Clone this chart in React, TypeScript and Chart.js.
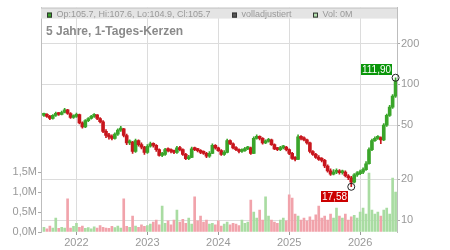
import React, { useEffect, useRef } from 'react';
import { Chart, registerables } from 'chart.js';

Chart.register(...registerables);

const FONT = '"Liberation Sans", Arial, Helvetica, sans-serif';

// Half-monthly candles, first one mid-July 2021, last one July 2026
const periodStart = 2021.5;
const periodsPerYear = 24;

const yearTicks = [2022, 2023, 2024, 2025, 2026];
const priceTicks = [10, 20, 50, 100, 200];
const volumeTicksM = [0, 0.5, 1.0, 1.5];

const opens = [
  59, 60, 58, 56, 59, 61, 60, 62, 65, 61,
  57, 58, 60, 52, 48.5, 54, 56, 58, 59.5, 56,
  53, 45, 42, 41, 40, 43, 46, 47, 42, 37,
  37.5, 32, 38.5, 36, 34.5, 31.5, 35, 36.5, 35.5, 33,
  30, 30.5, 33, 32.5, 32, 31.5, 34, 33, 30.5, 28.3,
  29, 33.5, 33, 32.5, 31.5, 31, 29.5, 31, 35.5, 34,
  32.5, 30.5, 31.5, 38.5, 36.5, 34, 33, 32, 32.5, 33.5,
  34, 31, 40, 41, 40, 37, 38, 39, 36, 33.5,
  33, 34, 34.5, 33, 31, 28.5, 28, 41, 40, 39,
  37, 32, 30.5, 29, 28, 27.5, 25, 23, 21.8, 22.5,
  23, 22.3, 22.6, 21.2, 20.5, 19, 21.5, 22, 22.5, 23.5,
  26, 33, 38.5, 40, 40.5, 39, 50, 59, 68, 82,
];

const closes = [
  60, 58, 56, 59, 61, 60, 62, 65, 61, 57,
  58, 60, 52, 48.5, 54, 56, 58, 59.5, 56, 53,
  45, 42, 41, 40, 43, 46, 47, 42, 37, 37.5,
  32, 38.5, 36, 34.5, 31.5, 35, 36.5, 35.5, 33, 30,
  30.5, 33, 32.5, 32, 31.5, 34, 33, 30.5, 28.3, 29,
  33.5, 33, 32.5, 31.5, 31, 29.5, 31, 35.5, 34, 32.5,
  30.5, 31.5, 38.5, 36.5, 34, 33, 32, 32.5, 33.5, 34,
  31, 40, 41, 40, 37, 38, 39, 36, 33.5, 33,
  34, 34.5, 33, 31, 28.5, 28, 41, 40, 39, 37,
  32, 30.5, 29, 28, 27.5, 25, 23, 21.8, 22.5, 23,
  22.3, 22.6, 21.2, 20.5, 19, 21.5, 22, 22.5, 23.5, 26,
  33, 38.5, 40, 40.5, 39, 50, 59, 68, 82, 105.7,
];

const highs = [
  61.5, 61, 59, 60, 62.5, 62, 63.5, 66.5, 65.5, 62,
  59.5, 61.5, 60.5, 53, 55, 57, 59, 61, 60, 57,
  54, 46.5, 43.5, 42.5, 44, 47, 49, 47.5, 43, 39,
  38, 39.5, 39, 37, 35, 36, 37.5, 37, 36, 33.5,
  31.5, 33.8, 34, 33.5, 32.8, 35, 35, 33.5, 31, 30,
  34.5, 34.5, 33.8, 33, 32.3, 31.5, 32, 36.5, 36, 34.5,
  33, 32.5, 39.5, 39, 37, 34.8, 33.5, 33.5, 34.3, 35,
  34.5, 41, 42.5, 41.8, 40.5, 39, 40, 39.5, 36.5, 34.3,
  35, 35.5, 35, 33.5, 31.5, 29.3, 42.5, 42, 41, 39.5,
  37.5, 32.5, 31, 29.8, 28.8, 28, 25.5, 23.8, 23.5, 23.8,
  23.5, 23.3, 23, 21.6, 21, 22, 22.8, 23.3, 24.3, 27,
  34, 39.5, 41, 42, 41, 51.5, 60.5, 70, 84, 111.9,
];

const lows = [
  58, 57, 55, 55.5, 58, 59, 59.5, 61.5, 60, 56,
  56, 57, 51, 47.5, 48, 53, 55.5, 57, 55, 52,
  44, 40.5, 39.5, 39, 39.5, 42, 45, 41, 36, 36,
  31, 31.5, 35, 33.5, 30.5, 31, 34.5, 34.5, 32, 29.5,
  29.3, 30, 31.8, 31.3, 30.8, 31, 32.3, 30, 27.8, 27.8,
  28.8, 32.5, 31.8, 30.8, 30.5, 28.8, 29, 30.8, 33.3, 32,
  30, 30, 31.2, 36, 33.5, 32.5, 31.3, 31.5, 32, 33,
  30.5, 30.8, 39.5, 39, 36.3, 36.5, 37.5, 35.5, 33, 32.5,
  32.5, 33.5, 32.3, 30.3, 28, 27.3, 27.8, 39, 38.3, 36.3,
  31.3, 30, 28.5, 27.5, 26.8, 24.3, 22.5, 21.3, 21.5, 22,
  21.8, 21.8, 20.8, 19.8, 17.58, 18.8, 21, 21.6, 22, 23.2,
  25.8, 32.5, 38, 39.3, 36.5, 38.5, 49, 58, 66.5, 80,
];

// volume in millions of shares
const volumesM = [
  0.12, 0.08, 0.15, 0.10, 0.35, 0.09, 0.12, 0.10, 0.83, 0.10,
  0.14, 0.22, 0.12, 0.15, 0.09, 0.11, 0.08, 0.13, 0.10, 0.16,
  0.12, 0.10, 0.09, 0.14, 0.11, 0.15, 0.10, 0.83, 0.14, 0.12,
  0.40, 0.15, 0.12, 0.18, 0.14, 0.16, 0.20, 0.25, 0.30, 0.18,
  0.65, 0.22, 0.28, 0.18, 0.30, 0.55, 0.25, 0.32, 0.22, 0.35,
  0.20, 0.88, 0.28, 0.40, 0.25, 0.30, 0.20, 0.22, 0.18, 0.28,
  0.15, 0.20, 0.25, 0.18, 0.22, 0.20, 0.16, 0.30, 0.22, 0.25,
  0.80, 0.50, 0.35, 0.55, 0.30, 0.88, 0.40, 0.30, 0.25, 0.22,
  0.30, 0.35, 0.28, 0.93, 0.85, 0.45, 0.40, 0.30, 0.35, 0.28,
  0.38, 0.30, 0.43, 0.65, 0.35, 0.40, 0.30, 0.45, 0.35, 0.60,
  0.40, 0.35, 0.45, 0.30, 0.38, 0.42, 0.35, 0.50, 0.60, 0.45,
  1.48, 0.55, 0.45, 0.50, 0.40, 0.55, 0.60, 0.45, 1.35, 1.00,
];

const legendItems = [
  { text: 'Op:105.7, Hi:107.6, Lo:104.9, Cl:105.7', fill: '#3aa52a' },
  { text: 'volladjustiert', fill: '#555555' },
  { text: 'Vol: 0M', fill: '#b3e0ad' },
];
const titleText = '5 Jahre, 1-Tages-Kerzen';
const highLabel = '111,90';
const lowLabel = '17,58';

const UP = '#3aa52a';
const DOWN = '#c8161d';
const VOL_UP = '#a9dca2';
const VOL_DOWN = '#f1a3ab';
const GRID = '#dcdcdc';
const TEXT = '#999999';

const overlayPlugin = {
  id: 'overlay',
  beforeDatasetsDraw(chart: any) {
    const { ctx, chartArea: a } = chart;
    ctx.save();
    ctx.fillStyle = '#e4e4e4';
    ctx.fillRect(a.left, a.top, a.right - a.left, 11);
    ctx.restore();
  },
  afterDraw(chart: any) {
    const { ctx, chartArea: a, scales } = chart;
    ctx.save();
    // top border
    ctx.strokeStyle = '#c4c4c4';
    ctx.lineWidth = 1;
    ctx.beginPath();
    ctx.moveTo(a.left, a.top + 0.5);
    ctx.lineTo(a.right, a.top + 0.5);
    ctx.stroke();

    // legend row
    const legendX = [a.left + 6, a.left + 191, a.left + 272];
    ctx.font = `9px ${FONT}`;
    ctx.textBaseline = 'alphabetic';
    legendItems.forEach((it, k) => {
      const x = legendX[k];
      ctx.fillStyle = it.fill;
      ctx.fillRect(x, a.top + 5, 5, 5);
      ctx.strokeStyle = '#333';
      ctx.strokeRect(x + 0.5, a.top + 5.5, 4, 4);
      ctx.fillStyle = TEXT;
      ctx.fillText(it.text, x + 9.5, a.top + 9.8);
    });

    // title
    ctx.font = `bold 12px ${FONT}`;
    ctx.fillStyle = '#8a8a8a';
    ctx.fillText(titleText, a.left + 5, a.top + 27);

    // extremes
    const xs = closes.map((_, i) => periodStart + (i + 1) / periodsPerYear);
    let hi = 0;
    let lo = 0;
    highs.forEach((v, i) => { if (v > highs[hi]) hi = i; });
    lows.forEach((v, i) => { if (v < lows[lo]) lo = i; });
    const drawMarker = (i: number, val: number, label: string, color: string, above: boolean) => {
      const px = scales.x.getPixelForValue(xs[i]);
      const py = scales.y.getPixelForValue(val);
      ctx.beginPath();
      ctx.arc(px, py, 3.5, 0, Math.PI * 2);
      ctx.strokeStyle = '#222';
      ctx.lineWidth = 1;
      ctx.stroke();
      ctx.font = `10px ${FONT}`;
      const w = ctx.measureText(label).width + 2;
      const bx = px - 3 - w;
      const by = above ? py - 3 - 11 : py + 4;
      ctx.fillStyle = color;
      ctx.fillRect(Math.round(bx), Math.round(by), Math.round(w), 11);
      ctx.fillStyle = '#ffffff';
      ctx.textAlign = 'center';
      ctx.textBaseline = 'middle';
      ctx.fillText(label, Math.round(bx) + Math.round(w) / 2, Math.round(by) + 6);
      ctx.textAlign = 'left';
      ctx.textBaseline = 'alphabetic';
    };
    drawMarker(hi, highs[hi], highLabel, '#0a960a', true);
    drawMarker(lo, lows[lo], lowLabel, '#cc0000', false);
    ctx.restore();
  },
};

export default function App() {
  const ref = useRef<HTMLCanvasElement>(null);

  useEffect(() => {
    const xs = closes.map((_, i) => periodStart + (i + 1) / periodsPerYear);
    const up = closes.map((c, i) => c >= opens[i]);
    const chart = new Chart(ref.current as HTMLCanvasElement, {
      type: 'bar',
      data: {
        datasets: [
          {
            label: 'Volumen',
            yAxisID: 'yv',
            data: xs.map((x, i) => ({ x, y: volumesM[i] * 1e6 })) as any,
            backgroundColor: up.map((u) => (u ? VOL_UP : VOL_DOWN)),
            barThickness: 2,
            grouped: false,
            order: 3,
          } as any,
          {
            label: 'Docht',
            yAxisID: 'y',
            data: xs.map((x, i) => ({ x, y: [lows[i], highs[i]] })) as any,
            backgroundColor: up.map((u) => (u ? UP : DOWN)),
            barThickness: 1,
            grouped: false,
            order: 2,
          } as any,
          {
            label: 'Kerze',
            yAxisID: 'y',
            data: xs.map((x, i) => ({ x, y: [Math.min(opens[i], closes[i]), Math.max(opens[i], closes[i])] })) as any,
            backgroundColor: up.map((u) => (u ? UP : DOWN)),
            barThickness: 3,
            minBarLength: 2,
            grouped: false,
            order: 1,
          } as any,
        ],
      },
      options: {
        responsive: false,
        animation: false,
        devicePixelRatio: 1,
        layout: { padding: { left: 0, right: 0, top: 7, bottom: 0 } },
        plugins: { legend: { display: false }, tooltip: { enabled: false }, title: { display: false } },
        scales: {
          x: {
            type: 'linear',
            position: 'bottom',
            min: 2021.5,
            max: 2026.52,
            offset: false,
            afterBuildTicks: (s: any) => { s.ticks = yearTicks.map((v) => ({ value: v })); },
            afterFit: (s: any) => { s.height = 18; },
            grid: { color: GRID, tickColor: '#999', tickLength: 3, offset: false, drawOnChartArea: true },
            border: { display: false },
            ticks: {
              color: TEXT,
              font: { family: FONT, size: 11 },
              padding: 1,
              maxRotation: 0,
              autoSkip: false,
              callback: (v: any) => String(v),
            },
          },
          y: {
            type: 'logarithmic',
            position: 'right',
            min: 8.162,
            max: 367.9,
            afterBuildTicks: (s: any) => { s.ticks = priceTicks.map((v) => ({ value: v })); },
            afterFit: (s: any) => { s.width = 53; },
            grid: { color: GRID, tickColor: '#aaa', tickLength: 3 },
            border: { display: true, color: '#bdbdbd' },
            ticks: {
              color: TEXT,
              font: { family: FONT, size: 11 },
              padding: 1,
              autoSkip: false,
              callback: (v: any) => String(v),
            },
          },
          yv: {
            type: 'linear',
            position: 'left',
            min: 0,
            max: 5.625e6,
            afterBuildTicks: (s: any) => { s.ticks = volumeTicksM.map((v) => ({ value: v * 1e6 })); },
            afterFit: (s: any) => { s.width = 41; },
            grid: { drawOnChartArea: false, tickColor: '#aaa', tickLength: 3 },
            border: { display: true, color: '#bdbdbd' },
            ticks: {
              color: TEXT,
              font: { family: FONT, size: 11 },
              padding: 1,
              autoSkip: false,
              callback: (v: any) => (Number(v) / 1e6).toFixed(1).replace('.', ',') + 'M',
            },
          },
        } as any,
      },
      plugins: [overlayPlugin],
    });
    return () => chart.destroy();
  }, []);

  return (
    <div style={{ position: 'absolute', left: 0, top: 0, width: 450, height: 250, background: '#fff' }}>
      <canvas ref={ref} width={450} height={250} style={{ display: 'block', width: 450, height: 250 }} />
    </div>
  );
}
